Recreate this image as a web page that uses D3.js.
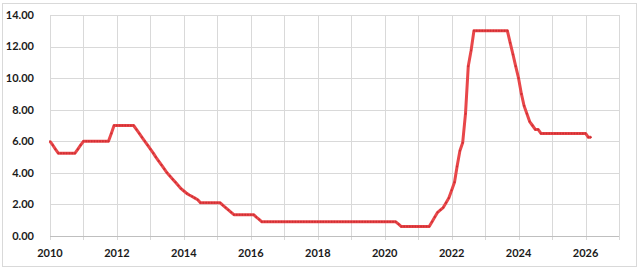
<!DOCTYPE html>
<html>
<head>
<meta charset="utf-8">
<script src="https://cdn.jsdelivr.net/npm/d3@7"></script>
<style>
  body { margin: 0; background: #fff; }
  text { font-family: Lato, "Open Sans", sans-serif; font-weight: bold; fill: #1a1a1a; }
</style>
</head>
<body>
<svg id="drawing_region"></svg>
<script>
// monthly rate values, Jan..Dec of each year
const rates2010 = [6.0, 5.75, 5.5, 5.25, 5.25, 5.25, 5.25, 5.25, 5.25, 5.25, 5.5, 5.75];
const rates2011 = [6.0, 6.0, 6.0, 6.0, 6.0, 6.0, 6.0, 6.0, 6.0, 6.0, 6.5, 7.0];
const rates2012 = [7.0, 7.0, 7.0, 7.0, 7.0, 7.0, 7.0, 6.75, 6.5, 6.25, 6.0, 5.75];
const rates2013 = [5.5, 5.25, 5.0, 4.75, 4.5, 4.25, 4.0, 3.8, 3.6, 3.4, 3.2, 3.0];
const rates2014 = [2.85, 2.7, 2.6, 2.5, 2.4, 2.3, 2.1, 2.1, 2.1, 2.1, 2.1, 2.1];
const rates2015 = [2.1, 2.1, 1.95, 1.8, 1.65, 1.5, 1.35, 1.35, 1.35, 1.35, 1.35, 1.35];
const rates2016 = [1.35, 1.35, 1.2, 1.05, 0.9, 0.9, 0.9, 0.9, 0.9, 0.9, 0.9, 0.9];
const rates2017 = [0.9, 0.9, 0.9, 0.9, 0.9, 0.9, 0.9, 0.9, 0.9, 0.9, 0.9, 0.9];
const rates2018 = [0.9, 0.9, 0.9, 0.9, 0.9, 0.9, 0.9, 0.9, 0.9, 0.9, 0.9, 0.9];
const rates2019 = [0.9, 0.9, 0.9, 0.9, 0.9, 0.9, 0.9, 0.9, 0.9, 0.9, 0.9, 0.9];
const rates2020 = [0.9, 0.9, 0.9, 0.9, 0.9, 0.75, 0.6, 0.6, 0.6, 0.6, 0.6, 0.6];
const rates2021 = [0.6, 0.6, 0.6, 0.6, 0.6, 0.9, 1.2, 1.5, 1.65, 1.8, 2.1, 2.4];
const rates2022 = [2.9, 3.4, 4.4, 5.4, 5.9, 7.75, 10.75, 11.75, 13.0, 13.0, 13.0, 13.0];
const rates2023 = [13.0, 13.0, 13.0, 13.0, 13.0, 13.0, 13.0, 13.0, 13.0, 12.25, 11.5, 10.75];
const rates2024 = [10.0, 9.0, 8.25, 7.75, 7.25, 7.0, 6.75, 6.75, 6.5, 6.5, 6.5, 6.5];
const rates2025 = [6.5, 6.5, 6.5, 6.5, 6.5, 6.5, 6.5, 6.5, 6.5, 6.5, 6.5, 6.5];
const rates2026 = [6.5, 6.25, 6.25];

const firstYear = 2010;
const lastYear = 2027;
const yTicks = [0, 2, 4, 6, 8, 10, 12, 14];
const xLabelYears = [2010, 2012, 2014, 2016, 2018, 2020, 2022, 2024, 2026];

const yearly = [rates2010, rates2011, rates2012, rates2013, rates2014, rates2015, rates2016,
    rates2017, rates2018, rates2019, rates2020, rates2021, rates2022, rates2023,
    rates2024, rates2025, rates2026];

const data = [];
yearly.forEach( (arr, i) => {
    arr.forEach( (v, m) => data.push({ date: new Date(firstYear + i, m, 1), value: v }) );
});

const config = {
    width: 640,
    height: 270,
    margin: {top: 15, right: 21, bottom: 34, left: 50}
};

const svg = d3.select('#drawing_region')
    .attr('width', config.width)
    .attr('height', config.height);

// outer frame
svg.append('rect')
    .attr('x', 2.5).attr('y', 3.5)
    .attr('width', 634).attr('height', 263)
    .attr('fill', 'none')
    .attr('stroke', '#d9d9d9');

const inner_width = config.width - config.margin.left - config.margin.right;
const inner_height = config.height - config.margin.top - config.margin.bottom;

const chart = svg.append('g')
    .attr('transform', `translate(${config.margin.left}, ${config.margin.top})`);

const xscale = d3.scaleTime()
    .domain([new Date(firstYear, 0, 1), new Date(lastYear, 0, 1)])
    .range([0, inner_width]);

const yscale = d3.scaleLinear()
    .domain([0, 14])
    .range([inner_height, 0]);

const years = d3.range(firstYear, lastYear + 1).map(y => new Date(y, 0, 1));

// horizontal grid
chart.append('g')
    .selectAll('line')
    .data(yTicks.slice(1))
    .join('line')
    .attr('x1', 0).attr('x2', inner_width)
    .attr('y1', d => Math.round(yscale(d)) + 0.5)
    .attr('y2', d => Math.round(yscale(d)) + 0.5)
    .attr('stroke', '#d9d9d9');

// vertical grid, extending below the axis as tick marks
chart.append('g')
    .selectAll('line')
    .data(years)
    .join('line')
    .attr('x1', d => Math.round(xscale(d)) + 0.5)
    .attr('x2', d => Math.round(xscale(d)) + 0.5)
    .attr('y1', 0).attr('y2', inner_height + 4)
    .attr('stroke', '#d9d9d9');

// x axis line
chart.append('line')
    .attr('x1', 0).attr('x2', inner_width)
    .attr('y1', Math.round(inner_height) + 0.5)
    .attr('y2', Math.round(inner_height) + 0.5)
    .attr('stroke', '#bfbfbf');

// y labels
chart.append('g')
    .selectAll('text')
    .data(yTicks)
    .join('text')
    .attr('x', -16)
    .attr('y', d => yscale(d))
    .attr('dy', '0.35em')
    .attr('text-anchor', 'end')
    .style('font-size', '11px')
    .text(d => d3.format('.2f')(d));

// x labels
chart.append('g')
    .selectAll('text')
    .data(xLabelYears)
    .join('text')
    .attr('x', d => xscale(new Date(d, 0, 1)))
    .attr('y', inner_height + 17)
    .attr('dy', '0.35em')
    .attr('text-anchor', 'middle')
    .style('font-size', '11px')
    .text(d => d);

const line = d3.line()
    .x(d => xscale(d.date))
    .y(d => yscale(d.value));

chart.append('path')
    .datum(data)
    .attr('fill', 'none')
    .attr('stroke', '#e8474a')
    .attr('stroke-width', 3)
    .attr('stroke-linejoin', 'round')
    .attr('d', line);

chart.append('g')
    .selectAll('circle')
    .data(data)
    .join('circle')
    .attr('cx', d => xscale(d.date))
    .attr('cy', d => yscale(d.value))
    .attr('r', 1)
    .attr('fill', '#cf2f33');
</script>
</body>
</html>
